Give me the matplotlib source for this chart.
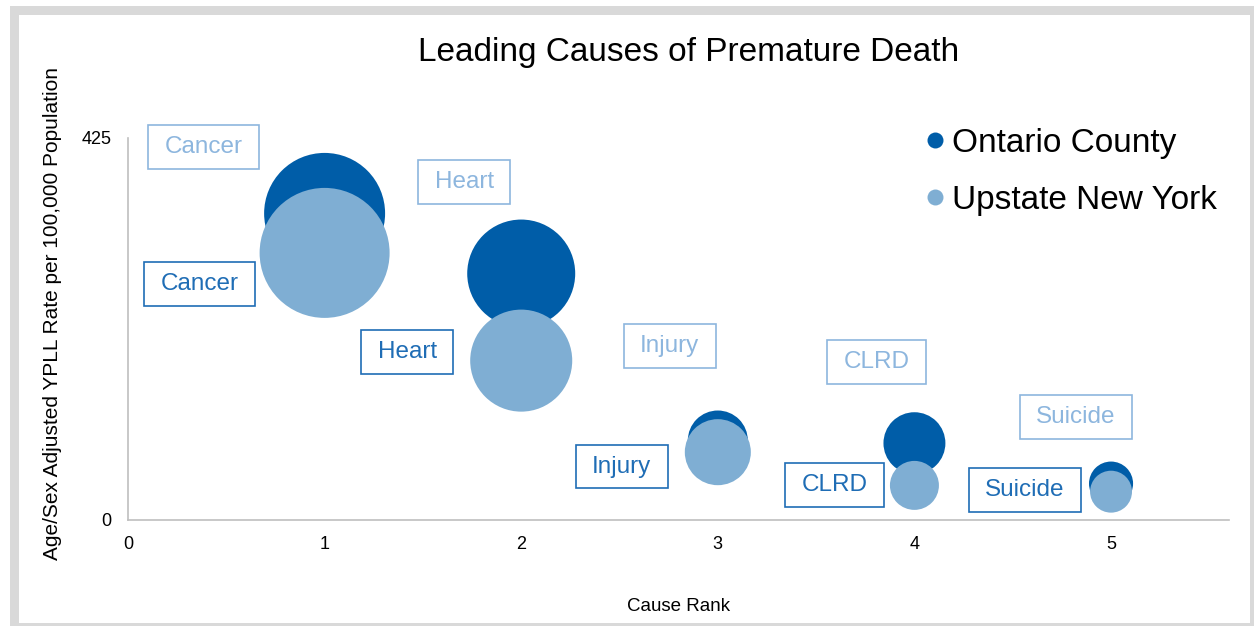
import matplotlib
matplotlib.use("Agg")
import matplotlib.pyplot as plt
from matplotlib.path import Path
from matplotlib.lines import Line2D
from matplotlib.patches import Rectangle
import numpy as np

# ---- data ----
causes = ["Cancer", "Heart", "Injury", "CLRD", "Suicide"]
rank = [1, 2, 3, 4, 5]
ontario_rate = [341, 274, 88, 85, 40]
upstate_rate = [297, 177, 75, 38, 31]
ontario_bubble = [86.6, 69.0, 21.3, 22.7, 11.5]
upstate_bubble = [100.0, 61.6, 25.8, 14.2, 10.4]
series_names = ["Ontario County", "Upstate New York"]
y_ticks = [0, 425]
x_ticks = [0, 1, 2, 3, 4, 5]

# ---- styles ----
C_DARK = "#005DA8"
C_LIGHT = "#7FAED3"
T_DARK = "#1F6DB5"
T_LIGHT = "#8DB6DE"
FONT = "Liberation Sans"
plt.rcParams["font.family"] = [FONT, "DejaVu Sans"]

W, H = 1254, 626
fig = plt.figure(figsize=(W / 100, H / 100), dpi=100)

# outer frame
fig.patches.append(Rectangle((10 / W, 0), 1 - 10 / W, 1 - 6 / H, transform=fig.transFigure,
                             facecolor="#D9D9D9", edgecolor="none", zorder=-10))
fig.patches.append(Rectangle((19 / W, 3 / H), (1250 - 19) / W, (623 - 15) / H, transform=fig.transFigure,
                             facecolor="white", edgecolor="none", zorder=-9))

ax_left, ax_right = 128 / W, 1229 / W
ax_bottom, ax_top = (H - 519.5) / H, (H - 138) / H
ax = fig.add_axes([ax_left, ax_bottom, ax_right - ax_left, ax_top - ax_bottom])
ax.set_facecolor("none")

ax.set_xlim(0, 5.6)
ax.set_ylim(0, 425)

BASE_S = (1.44 * 65) ** 2  # points^2 for bubble size 100


def sizes(vals):
    return [BASE_S * v / 100.0 for v in vals]


ax.scatter(rank, ontario_rate, s=sizes(ontario_bubble), color=C_DARK, edgecolors="none",
           zorder=3, clip_on=False)
ax.scatter(rank, upstate_rate, s=sizes(upstate_bubble), color=C_LIGHT, edgecolors="none",
           zorder=4, clip_on=False)


def make_box(hpad, vpad):
    def box(x0, y0, width, height, mutation_size):
        hp = hpad * mutation_size
        vp = vpad * mutation_size
        x0 -= hp
        y0 -= vp
        x1 = x0 + width + 2 * hp
        y1 = y0 + height + 2 * vp
        return Path([(x0, y0), (x1, y0), (x1, y1), (x0, y1), (x0, y0)], closed=True)
    return box


boxstyle = make_box(0.68, 0.45)

up_off = [(-121, 105.5), (-57, 179), (-48, 106.5), (-38, 123), (-35, 75)]
on_off = [(-125, -70.5), (-114, -78.5), (-96, -26), (-80, -42), (-86, -6)]

for i, c in enumerate(causes):
    ax.annotate(c, xy=(rank[i], upstate_rate[i]), xytext=up_off[i], textcoords="offset pixels",
                ha="center", va="center", fontsize=17.5, color=T_LIGHT, annotation_clip=False,
                bbox=dict(boxstyle=boxstyle, facecolor="white", edgecolor=T_LIGHT, linewidth=1.2),
                zorder=5)
    ax.annotate(c, xy=(rank[i], ontario_rate[i]), xytext=on_off[i], textcoords="offset pixels",
                ha="center", va="center", fontsize=17.5, color=T_DARK, annotation_clip=False,
                bbox=dict(boxstyle=boxstyle, facecolor="white", edgecolor=T_DARK, linewidth=1.2),
                zorder=5)

for s in ["top", "right"]:
    ax.spines[s].set_visible(False)
for s in ["left", "bottom"]:
    ax.spines[s].set_color("#BFBFBF")
    ax.spines[s].set_linewidth(1.2)

ax.set_xticks(x_ticks)
ax.set_xticklabels([str(v) for v in x_ticks])
ax.set_yticks(y_ticks)
ax.set_yticklabels([str(v) for v in y_ticks])
ax.tick_params(axis="both", length=0, labelsize=13, colors="black", pad=12)

ax.set_xlabel("Cause Rank", fontsize=13.5, labelpad=32)
fig.text(53 / W, 1 - 313 / H, "Age/Sex Adjusted YPLL Rate per 100,000 Population", rotation=90,
         ha="center", va="center", fontsize=15)
fig.text(689 / W, 1 - 53 / H, "Leading Causes of Premature Death", ha="center", va="center",
         fontsize=24)

handles = [Line2D([], [], marker="o", linestyle="none", markersize=11.5, color=C_DARK, markeredgewidth=0),
           Line2D([], [], marker="o", linestyle="none", markersize=11.5, color=C_LIGHT, markeredgewidth=0)]
leg = fig.legend(handles, series_names, loc="upper left", bbox_to_anchor=(922 / W, 1 - 128 / H),
                 frameon=False, fontsize=24, handletextpad=0.1, handlelength=0.8,
                 labelspacing=0.78, borderpad=0, borderaxespad=0)

fig.savefig("out.png", dpi=100)
